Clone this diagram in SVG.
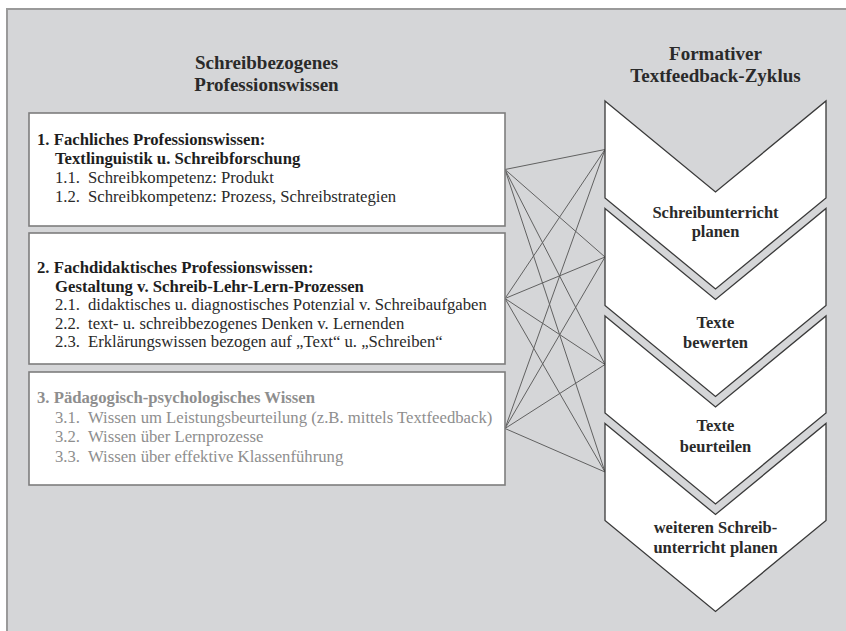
<svg xmlns="http://www.w3.org/2000/svg" width="846" height="631" viewBox="0 0 846 631">
<defs>
<style>
text{font-family:'Liberation Serif',Tinos,'Times New Roman','DejaVu Serif',serif}
.title{font-weight:bold;font-size:19px;fill:#2a2a2a;text-anchor:middle}
.box{fill:#ffffff;stroke:#7d7d7d;stroke-width:1.6}
.hd{font-weight:bold;font-size:16.7px;fill:#1e1e1e}
.it{font-size:16.7px;fill:#2a2a2a}
.gray .hd,.gray .it{fill:#8e8e8e}
.chev{fill:#ffffff;stroke:#3a3a3a;stroke-width:1.3;stroke-linejoin:miter}
.ct{font-weight:bold;font-size:16.5px;fill:#2a2a2a;text-anchor:middle}
.conn line{stroke:#616161;stroke-width:1}
</style>
</defs>
<rect x="0" y="0" width="846" height="631" fill="#ffffff"/>
<rect x="7" y="9" width="850" height="640" fill="#d5d6d8" stroke="#9a9a9a" stroke-width="2"/>

<g id="title-left">
<text class="title" x="266.5" y="69">Schreibbezogenes</text>
<text class="title" x="266.5" y="91">Professionswissen</text>
</g>
<g id="title-right">
<text class="title" x="715.5" y="60">Formativer</text>
<text class="title" x="715.5" y="82">Textfeedback-Zyklus</text>
</g>

<g id="connectors" class="conn">
<line x1="505" y1="169.5" x2="605" y2="149.5"/>
<line x1="505" y1="169.5" x2="605" y2="257"/>
<line x1="505" y1="169.5" x2="605" y2="364.5"/>
<line x1="505" y1="169.5" x2="605" y2="472"/>
<line x1="505" y1="298.5" x2="605" y2="149.5"/>
<line x1="505" y1="298.5" x2="605" y2="257"/>
<line x1="505" y1="298.5" x2="605" y2="364.5"/>
<line x1="505" y1="298.5" x2="605" y2="472"/>
<line x1="505" y1="428.5" x2="605" y2="149.5"/>
<line x1="505" y1="428.5" x2="605" y2="257"/>
<line x1="505" y1="428.5" x2="605" y2="364.5"/>
<line x1="505" y1="428.5" x2="605" y2="472"/>
</g>

<g id="box1">
<rect class="box" x="29" y="113" width="476" height="113"/>
<text class="hd" x="37" y="144.5">1. Fachliches Professionswissen:</text>
<text class="hd" x="55" y="163.5">Textlinguistik u. Schreibforschung</text>
<text class="it" x="55" y="182.5">1.1.</text><text class="it" x="88" y="182.5">Schreibkompetenz: Produkt</text>
<text class="it" x="55" y="201.5">1.2.</text><text class="it" x="88" y="201.5">Schreibkompetenz: Prozess, Schreibstrategien</text>
</g>

<g id="box2">
<rect class="box" x="29" y="233" width="476" height="131"/>
<text class="hd" x="37" y="273">2. Fachdidaktisches Professionswissen:</text>
<text class="hd" x="55" y="291.5">Gestaltung v. Schreib-Lehr-Lern-Prozessen</text>
<text class="it" x="55" y="310">2.1.</text><text class="it" x="88" y="310">didaktisches u. diagnostisches Potenzial v. Schreibaufgaben</text>
<text class="it" x="55" y="328.5">2.2.</text><text class="it" x="88" y="328.5">text- u. schreibbezogenes Denken v. Lernenden</text>
<text class="it" x="55" y="347">2.3.</text><text class="it" x="88" y="347">Erklärungswissen bezogen auf „Text“ u. „Schreiben“</text>
</g>

<g id="box3" class="gray">
<rect class="box" x="29" y="372" width="476" height="113"/>
<text class="hd" x="37" y="403">3. Pädagogisch-psychologisches Wissen</text>
<text class="it" x="55" y="422.5">3.1.</text><text class="it" x="88" y="422.5">Wissen um Leistungsbeurteilung (z.B. mittels Textfeedback)</text>
<text class="it" x="55" y="442">3.2.</text><text class="it" x="88" y="442">Wissen über Lernprozesse</text>
<text class="it" x="55" y="461.5">3.3.</text><text class="it" x="88" y="461.5">Wissen über effektive Klassenführung</text>
</g>

<g id="step1">
<path class="chev" d="M605,101 L715.5,192 L826,101 L826,198 L715.5,289 L605,198 Z"/>
<text class="ct" x="715.5" y="217.5">Schreibunterricht</text>
<text class="ct" x="715.5" y="237">planen</text>
</g>
<g id="step2">
<path class="chev" d="M605,208.5 L715.5,299.5 L826,208.5 L826,305.5 L715.5,396.5 L605,305.5 Z"/>
<text class="ct" x="715.5" y="328">Texte</text>
<text class="ct" x="715.5" y="348">bewerten</text>
</g>
<g id="step3">
<path class="chev" d="M605,316 L715.5,407 L826,316 L826,413 L715.5,504 L605,413 Z"/>
<text class="ct" x="715.5" y="431">Texte</text>
<text class="ct" x="715.5" y="451.5">beurteilen</text>
</g>
<g id="step4">
<path class="chev" d="M605,423.5 L715.5,514.5 L826,423.5 L826,520.5 L715.5,611.5 L605,520.5 Z"/>
<text class="ct" x="715.5" y="533">weiteren Schreib-</text>
<text class="ct" x="715.5" y="552.5">unterricht planen</text>
</g>
</svg>
